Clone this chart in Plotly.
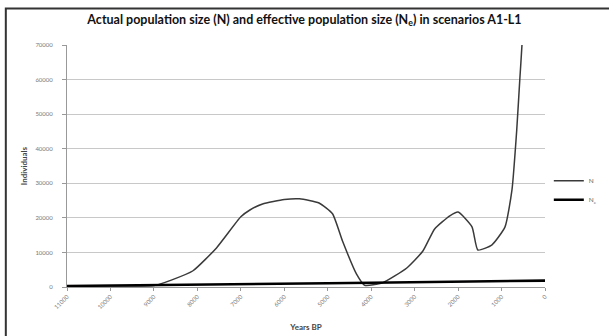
import plotly.graph_objects as go

# Data (Years BP)
n_years = [11000, 10000, 9000, 8600, 8100, 7560, 7000, 6800, 6500, 6000, 5650, 5200, 4890, 4660,
           4340, 4150, 3740, 3180, 2810, 2540, 2190, 2000, 1680, 1545, 1220, 920, 760, 650, 580, 530, 500]
n_values = [300, 300, 400, 2000, 4700, 11300, 20300, 22200, 24000, 25300, 25500, 24300, 21200, 13300,
            3800, 500, 1200, 5500, 10400, 16800, 20600, 21700, 17400, 10700, 12200, 17400, 28100, 45500,
            60000, 70000, 80000]

ne_years = [11000, 10000, 9000, 8000, 7000, 6000, 5000, 4000, 3000, 2000, 1000, 0]
ne_values = [300, 400, 500, 650, 800, 950, 1100, 1250, 1400, 1550, 1700, 1850]

tick_vals = [11000, 10000, 9000, 8000, 7000, 6000, 5000, 4000, 3000, 2000, 1000, 0]
tick_text = [str(v) for v in tick_vals]
y_ticks = [0, 10000, 20000, 30000, 40000, 50000, 60000, 70000]

fig = go.Figure()
fig.add_trace(go.Scatter(x=n_years, y=n_values, mode="lines", name="N",
                         line=dict(color="#3a3a3a", width=1.5, shape="spline", smoothing=0.5)))
fig.add_trace(go.Scatter(x=ne_years, y=ne_values, mode="lines", name="N<sub>e</sub>",
                         line=dict(color="#000000", width=2.6)))

font = "Lato, Liberation Sans, sans-serif"
fig.update_layout(
    width=609, height=336,
    margin=dict(l=67, r=64, t=45, b=49, autoexpand=False),
    paper_bgcolor="white", plot_bgcolor="white",
    title=dict(text="Actual population size (N) and effective population size (N<sub>e</sub>) in scenarios A1-L1",
               x=0.5, xanchor="center", y=0.943, yanchor="middle",
               font=dict(family=font, size=12.5, color="#111111", weight="bold")),
    font=dict(family=font, size=6, color="#777777"),
    showlegend=True,
    legend=dict(x=1.008, y=0.40, xanchor="left", yanchor="middle", bgcolor="rgba(0,0,0,0)",
                font=dict(size=6.5, color="#666666"), tracegroupgap=1, itemwidth=30),
    xaxis=dict(range=[11000, 0], tickvals=tick_vals, ticktext=tick_text, tickangle=-45,
               showgrid=False, showline=True, linecolor="#999999", linewidth=1,
               ticks="outside", ticklen=3, tickcolor="#999999", zeroline=False,
               title=dict(text="<b>Years BP</b>", font=dict(size=8, color="#444444"), standoff=15)),
    yaxis=dict(range=[0, 70000], tickvals=y_ticks, ticktext=[str(v) for v in y_ticks],
               showgrid=True, gridcolor="#c8c8c8", gridwidth=1,
               showline=True, linecolor="#999999", linewidth=1, ticks="outside", ticklen=4,
               tickcolor="#999999", zeroline=False, ticklabelstandoff=8,
               title=dict(text="<b>Individuals</b>", font=dict(size=8, color="#444444"), standoff=6)),
    shapes=[
        dict(type="rect", xref="paper", yref="paper", x0=-0.128, x1=1.3, y0=-0.4, y1=1.151,
             line=dict(color="#333333", width=2), fillcolor="rgba(0,0,0,0)", layer="above"),
    ],
)

fig.write_html("out.html", config={"displayModeBar": False},
               post_script="document.body.style.margin='0';document.body.style.padding='0';")
